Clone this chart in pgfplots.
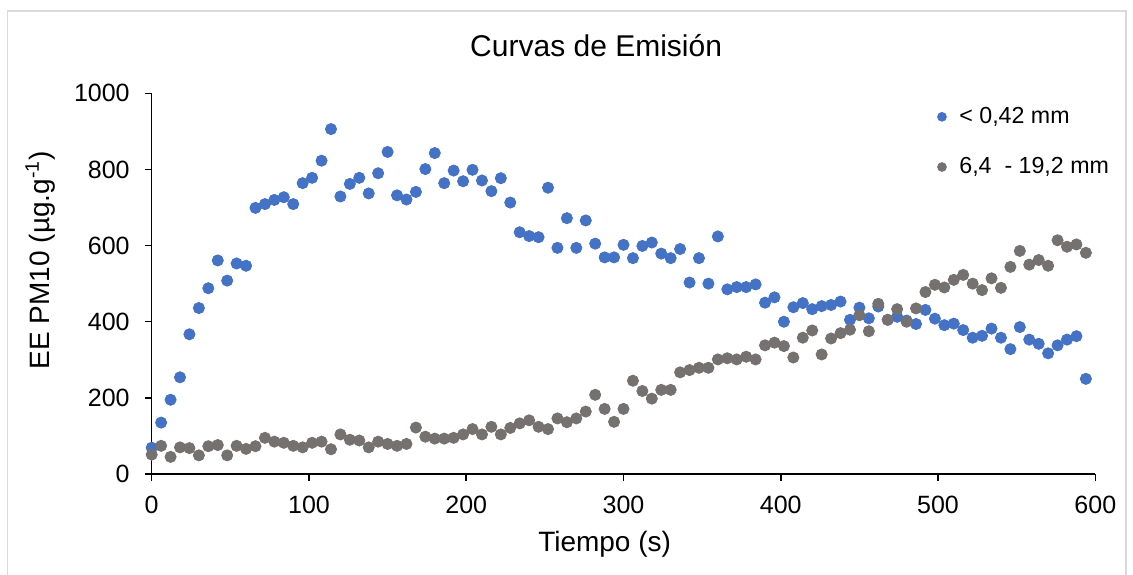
\documentclass[border=0pt]{standalone}
\usepackage{pgfplots}
\pgfplotsset{compat=1.18}
\usepackage{fontspec}
\setmainfont{Liberation Sans}
\definecolor{serieazul}{HTML}{4472C4}
\definecolor{seriegris}{HTML}{767171}
\definecolor{marco}{HTML}{D9D9D9}
\begin{document}
\begin{tikzpicture}[x=0.5pt,y=0.5pt]
% marco del grafico (1 px = 0.5 pt)
\useasboundingbox (-151.7,-100) rectangle (981.3,474);
\draw[marco,line width=0.8pt] (-144,-110) -- (-144,463) -- (974,463) -- (974,-110);
\begin{axis}[
  at={(0,0)}, anchor=origin,
  scale only axis,
  width=471.8pt, height=190.35pt,
  xmin=0, xmax=600, ymin=0, ymax=1000,
  xtick={0,100,...,600},
  ytick={0,200,...,1000},
  axis x line*=bottom,
  axis y line*=left,
  axis line style={-, line width=0.75pt, black},
  tick style={line width=0.75pt, black},
  tick align=outside,
  major tick length=3.5pt,
  clip=false,
  /pgf/number format/assume math mode=true,
  /pgf/number format/1000 sep={},
  ticklabel style={font=\fontsize{12.5}{14}\selectfont},
  xticklabel style={yshift=-4pt},
  yticklabel style={xshift=-4pt},
  title={Curvas de Emisión},
  title style={at={(rel axis cs:0.471,1.093)}, anchor=center, font=\fontsize{15}{17}\selectfont},
  xlabel={Tiempo (s)},
  xlabel style={at={(rel axis cs:0.48,-0.184)}, anchor=center, font=\fontsize{14}{16}\selectfont},
  ylabel={EE PM10 (µg.g\textsuperscript{-1})},
  ylabel style={at={(rel axis cs:-0.118,0.562)}, anchor=center, rotate=0, font=\fontsize{14}{16}\selectfont},
  legend style={at={(rel axis cs:0.832,0.975)}, anchor=north west, draw=none, fill=none,
    font=\fontsize{11.6}{13}\selectfont, row sep=11.5pt, inner sep=0pt},
  legend cell align=left,
  legend image code/.code={\fill (0.16cm,0cm) circle (2.2pt); \path[draw=none,fill=none] (0.16cm,0cm) rectangle (0.16cm+6.7pt,0cm);},
]
\addplot[only marks, mark=*, mark size=2.8pt, serieazul, mark options={draw=serieazul, fill=serieazul}]
coordinates {
(0,69) (6,135) (12,195) (18,254) (24,367) (30,436) (36,488) (42,561) (48,508) (54,553)
(60,547) (66,699) (72,709) (78,720) (84,727) (90,709) (96,764) (102,778) (108,823) (114,906)
(120,729) (126,762) (132,778) (138,737) (144,790) (150,846) (156,732) (162,721) (168,741) (174,801)
(180,843) (186,764) (192,797) (198,769) (204,799) (210,771) (216,743) (222,777) (228,713) (234,635)
(240,625) (246,622) (252,752) (258,594) (264,672) (270,594) (276,666) (282,605) (288,569) (294,569)
(300,602) (306,567) (312,599) (318,608) (324,579) (330,567) (336,591) (342,503) (348,567) (354,500)
(360,624) (366,485) (372,491) (378,491) (384,498) (390,450) (396,464) (402,400) (408,438) (414,449)
(420,433) (426,441) (432,444) (438,453) (444,405) (450,437) (456,409) (462,440) (468,405) (474,413)
(480,403) (486,394) (492,431) (498,408) (504,391) (510,395) (516,378) (522,358) (528,363) (534,382)
(540,358) (546,328) (552,386) (558,353) (564,342) (570,317) (576,338) (582,353) (588,362) (594,250)
};
\addlegendentry{< 0,42 mm}
\addplot[only marks, mark=*, mark size=2.8pt, seriegris, mark options={draw=seriegris, fill=seriegris}]
coordinates {
(0,51) (6,74) (12,45) (18,70) (24,68) (30,49) (36,73) (42,76) (48,49) (54,74)
(60,66) (66,73) (72,95) (78,85) (84,82) (90,74) (96,70) (102,82) (108,85) (114,65)
(120,104) (126,90) (132,88) (138,70) (144,85) (150,79) (156,74) (162,79) (168,122) (174,98)
(180,93) (186,93) (192,95) (198,104) (204,118) (210,104) (216,124) (222,104) (228,121) (234,133)
(240,141) (246,124) (252,118) (258,146) (264,136) (270,146) (276,164) (282,208) (288,171) (294,137)
(300,171) (306,245) (312,218) (318,198) (324,221) (330,221) (336,267) (342,273) (348,279) (354,279)
(360,301) (366,304) (372,301) (378,308) (384,301) (390,338) (396,345) (402,336) (408,306) (414,358)
(420,377) (426,314) (432,356) (438,370) (444,379) (450,417) (456,375) (462,447) (468,405) (474,433)
(480,400) (486,435) (492,478) (498,497) (504,490) (510,510) (516,523) (522,500) (528,483) (534,514)
(540,489) (546,544) (552,586) (558,550) (564,562) (570,547) (576,614) (582,597) (588,603) (594,581)
};
\addlegendentry{6,4\ \ - 19,2 mm}
\end{axis}
\end{tikzpicture}
\end{document}
